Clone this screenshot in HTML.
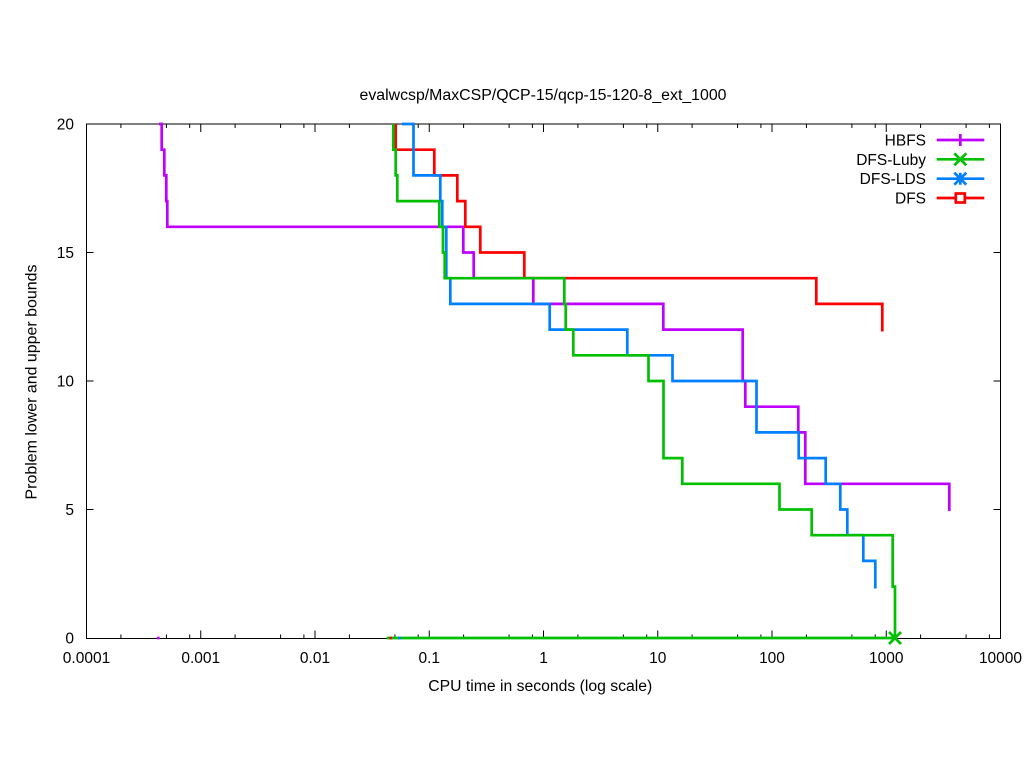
<!DOCTYPE html>
<html>
<head>
<meta charset="utf-8">
<style>
  html, body { margin: 0; padding: 0; background: #ffffff; }
  svg { display: block; }
  text { font-family: "Liberation Sans", Arial, sans-serif; font-size: 15.5px; fill: #000; }
</style>
</head>
<body>
<svg width="1024" height="768" viewBox="0 0 1024 768" xmlns="http://www.w3.org/2000/svg">
  <rect x="0" y="0" width="1024" height="768" fill="#ffffff"/>

  <!-- Title -->
  <text x="543" y="100" text-anchor="middle" textLength="367" lengthAdjust="spacingAndGlyphs">evalwcsp/MaxCSP/QCP-15/qcp-15-120-8_ext_1000</text>

  <!-- Axis labels -->
  <text x="540.3" y="691" text-anchor="middle" textLength="224" lengthAdjust="spacingAndGlyphs">CPU time in seconds (log scale)</text>
  <text transform="translate(36.5,382) rotate(-90)" x="0" y="0" text-anchor="middle" textLength="235" lengthAdjust="spacingAndGlyphs">Problem lower and upper bounds</text>

  <!-- Y tick labels -->
  <g text-anchor="end">
    <text x="74" y="643.5">0</text>
    <text x="74" y="515">5</text>
    <text x="74" y="386.5">10</text>
    <text x="74" y="258">15</text>
    <text x="74" y="129.5">20</text>
  </g>

  <!-- X tick labels -->
  <g text-anchor="middle">
    <text x="86.5" y="663">0.0001</text>
    <text x="200.75" y="663">0.001</text>
    <text x="315" y="663">0.01</text>
    <text x="429.25" y="663">0.1</text>
    <text x="543.5" y="663">1</text>
    <text x="657.75" y="663">10</text>
    <text x="772" y="663">100</text>
    <text x="886.25" y="663">1000</text>
    <text x="1000.5" y="663">10000</text>
  </g>

  <!-- Ticks -->
  <g stroke="#000" stroke-width="1" fill="none">
    <!-- Y major ticks left & right -->
    <path d="M86.5,638.5 h7 M86.5,509.5 h7 M86.5,381 h7 M86.5,252.5 h7 M86.5,124 h7"/>
    <path d="M1000.5,638.5 h-7 M1000.5,509.5 h-7 M1000.5,381 h-7 M1000.5,252.5 h-7 M1000.5,124 h-7"/>
    <!-- X major ticks bottom & top -->
    <path d="M200.75,638.5 v-8 M315,638.5 v-8 M429.25,638.5 v-8 M543.5,638.5 v-8 M657.75,638.5 v-8 M772,638.5 v-8 M886.25,638.5 v-8"/>
    <path d="M200.75,124 v8 M315,124 v8 M429.25,124 v8 M543.5,124 v8 M657.75,124 v8 M772,124 v8 M886.25,124 v8"/>
    <!-- X minor ticks at 2, 5, 8 per decade -->
    <path d="
      M120.9,638.5 v-4 M166.4,638.5 v-4 M189.7,638.5 v-4
      M235.1,638.5 v-4 M280.6,638.5 v-4 M303.9,638.5 v-4
      M349.4,638.5 v-4 M394.9,638.5 v-4 M418.2,638.5 v-4
      M463.6,638.5 v-4 M509.1,638.5 v-4 M532.4,638.5 v-4
      M577.9,638.5 v-4 M623.4,638.5 v-4 M646.7,638.5 v-4
      M692.1,638.5 v-4 M737.6,638.5 v-4 M760.9,638.5 v-4
      M806.4,638.5 v-4 M851.9,638.5 v-4 M875.2,638.5 v-4
      M920.6,638.5 v-4 M966.1,638.5 v-4 M989.4,638.5 v-4"/>
    <path d="
      M120.9,124 v4 M166.4,124 v4 M189.7,124 v4
      M235.1,124 v4 M280.6,124 v4 M303.9,124 v4
      M349.4,124 v4 M394.9,124 v4 M418.2,124 v4
      M463.6,124 v4 M509.1,124 v4 M532.4,124 v4
      M577.9,124 v4 M623.4,124 v4 M646.7,124 v4
      M692.1,124 v4 M737.6,124 v4 M760.9,124 v4
      M806.4,124 v4 M851.9,124 v4 M875.2,124 v4
      M920.6,124 v4 M966.1,124 v4 M989.4,124 v4"/>
  </g>

  <!-- Border -->
  <rect x="86.5" y="124" width="914" height="514.5" fill="none" stroke="#000" stroke-width="1"/>

  <!-- Series -->
  <g fill="none" stroke-width="2.7" stroke-linejoin="miter" stroke-linecap="butt">
    <!-- HBFS -->
    <path stroke="#c000ff" d="M159,124 H161.7 V149.7 H164.3 V175.4 H166.3 V201.1 H167.3 V226.8 H463.3 V252.5 H473.7 V278.2 H533.3 V303.9 H663.3 V329.6 H742.7 V381 H745.3 V406.7 H798.3 V432.4 H805.3 V483.8 H949.3 V511"/>
    <path stroke="#c000ff" d="M156.8,638 H159.6"/>

    <!-- DFS -->
    <path stroke="#ff0000" d="M395.7,124 V149.7 H434.3 V175.4 H457.3 V201.1 H465.3 V226.8 H480.3 V252.5 H524.3 V278.2 H816.3 V303.9 H882.3 V331.5"/>

    <!-- DFS-LDS -->
    <path stroke="#0080ff" d="M402,124 H413.5 V175.4 H440.3 V201.1 H442.3 V226.8 H446.3 V278.2 H450.3 V303.9 H549.7 V329.6 H627.3 V355.3 H672.5 V381 H756.5 V432.4 H798.7 V458.1 H825.7 V483.8 H840.3 V509.5 H847.3 V535.2 H863.3 V560.9 H875.3 V588.5"/>

    <!-- DFS-Luby -->
    <path stroke="#00c000" d="M393.3,124 V149.7 H395.7 V175.4 H397.3 V201.1 H439.3 V226.8 H443 V252.5 H444.7 V278.2 H564.3 V303.9 H565.7 V329.6 H573.3 V355.3 H648.5 V381 H663.5 V458.1 H682.3 V483.8 H779.5 V509.5 H811.7 V535.2 H892.7 V586.6 H895 V638"/>
    <path stroke="#00c000" d="M386.7,638 H895"/>
    <path stroke="#ff0000" d="M389.5,638 H392"/>
    <path stroke="#0080ff" d="M398,638 H400.6"/>
  </g>

  <!-- Green X marker at end -->
  <path stroke="#00c000" stroke-width="2.7" fill="none" d="M889,632 L901,644 M901,632 L889,644"/>

  <!-- Legend -->
  <g text-anchor="end">
    <text x="926" y="145.5">HBFS</text>
    <text x="926" y="164.8">DFS-Luby</text>
    <text x="926" y="184.2">DFS-LDS</text>
    <text x="926" y="203.5">DFS</text>
  </g>
  <g fill="none" stroke-width="2.7">
    <path stroke="#c000ff" d="M936.7,140 H984.3 M960.3,134 V146"/>
    <path stroke="#00c000" d="M936.7,159.3 H984.3 M954.3,153.3 L966.3,165.3 M966.3,153.3 L954.3,165.3"/>
    <path stroke="#0080ff" d="M936.7,178.7 H984.3 M960.3,172.7 V184.7 M954.3,172.7 L966.3,184.7 M966.3,172.7 L954.3,184.7"/>
    <path stroke="#ff0000" d="M936.7,198 H955.8 M964.8,198 H984.3"/>
    <rect stroke="#ff0000" x="955.8" y="193.5" width="9" height="9"/>
  </g>
</svg>
</body>
</html>
